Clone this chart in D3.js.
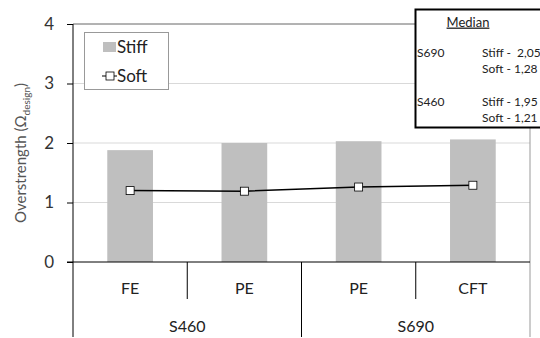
<!DOCTYPE html>
<html><head><meta charset="utf-8">
<script src="https://cdn.jsdelivr.net/npm/d3@7"></script>
<style>body{margin:0;background:#fff}svg{display:block;font-family:Lato,"Open Sans",sans-serif}</style>
</head><body>
<svg id="c" width="540" height="338"></svg>
<script>
const categories = ["FE","PE","PE","CFT"];
const groups = ["S460","S460","S690","S690"];
const groupLabels = ["S460","S690"];
const stiff = [1.88, 2.00, 2.03, 2.06];
const soft = [1.20, 1.19, 1.26, 1.29];
const yTicks = [0,1,2,3,4];
const medianRows = [["S690","Stiff -  2,05","Soft - 1,28"],["S460","Stiff - 1,95","Soft - 1,21"]];

const svg = d3.select("#c");
const L = 73, R = 530, T = 24, B = 262;
const x = d3.scaleBand().domain(d3.range(categories.length)).range([L, R]).paddingInner(0.6).paddingOuter(0.3);
const xc = d3.scaleBand().domain(d3.range(categories.length)).range([L, R]);
const y = d3.scaleLinear().domain([0,4]).range([B, T]);

// gridlines
svg.append("g").selectAll("line").data(yTicks.filter(d=>d>0 && d<4)).join("line")
  .attr("x1", L).attr("x2", R).attr("y1", d=>y(d)).attr("y2", d=>y(d))
  .attr("stroke", "#d9d9d9").attr("stroke-width", 1);
svg.append("line").attr("x1", L).attr("x2", R).attr("y1", y(4)).attr("y2", y(4)).attr("stroke", "#666");
svg.append("line").attr("x1", R).attr("x2", R).attr("y1", y(4)).attr("y2", 337).attr("stroke", "#999");

// bars
svg.append("g").selectAll("rect").data(stiff).join("rect")
  .attr("x", (d,i)=>x(i)).attr("width", x.bandwidth())
  .attr("y", d=>y(d)).attr("height", d=>y(0)-y(d)).attr("fill", "#bfbfbf");

// y axis
const ya = svg.append("g").attr("transform", `translate(${L},0)`)
  .call(d3.axisLeft(y).tickValues(yTicks).tickSize(6).tickPadding(13).tickFormat(d3.format("d")));
ya.select(".domain").remove();
ya.selectAll(".tick line").attr("stroke", "#000");
ya.selectAll("text").attr("font-size", 17).attr("fill", "#333").attr("font-family", "Lato, sans-serif");
svg.append("line").attr("x1", L).attr("x2", L).attr("y1", T).attr("y2", 337).attr("stroke", "#000");

// x axis
svg.append("line").attr("x1", 67).attr("x2", R).attr("y1", B).attr("y2", B).attr("stroke", "#000");
svg.append("g").selectAll("line").data(d3.range(1, categories.length)).join("line")
  .attr("x1", i=>xc(i)).attr("x2", i=>xc(i)).attr("y1", B)
  .attr("y2", i=> groups[i] !== groups[i-1] ? 337 : 299).attr("stroke", "#000");
svg.append("g").selectAll("text").data(categories).join("text")
  .attr("x", (d,i)=>xc(i)+xc.bandwidth()/2).attr("y", 288).attr("dy", "0.35em")
  .attr("text-anchor", "middle").attr("font-size", 16).attr("fill", "#222").text(d=>d);
svg.append("g").selectAll("text").data(groupLabels).join("text")
  .attr("x", g => { const idx = d3.range(groups.length).filter(i=>groups[i]===g); return (xc(idx[0]) + xc(idx[idx.length-1]) + xc.bandwidth())/2; })
  .attr("y", 326).attr("dy", "0.35em")
  .attr("text-anchor", "middle").attr("font-size", 16).attr("fill", "#222").text(d=>d);

// soft line
const cx = i => x(i) + x.bandwidth()/2;
svg.append("path").datum(soft)
  .attr("d", d3.line().x((d,i)=>cx(i)).y(d=>y(d)))
  .attr("fill", "none").attr("stroke", "#000").attr("stroke-width", 1.5);
svg.append("g").selectAll("rect").data(soft).join("rect")
  .attr("x", (d,i)=>cx(i)-4).attr("y", d=>y(d)-4).attr("width", 8).attr("height", 8)
  .attr("fill", "#fff").attr("stroke", "#000").attr("stroke-width", 0.8);

// y title
const yt = svg.append("text").attr("transform", "translate(26,153) rotate(-90)")
  .attr("text-anchor", "middle").attr("font-size", 15).attr("fill", "#555");
yt.append("tspan").text("Overstrength (Ω");
yt.append("tspan").attr("font-size", 10).attr("dy", 4).text("design");
yt.append("tspan").attr("dy", -4).text(")");

// legend
const lg = svg.append("g");
lg.append("rect").attr("x", 84.5).attr("y", 32.5).attr("width", 84).attr("height", 57)
  .attr("fill", "#fff").attr("stroke", "#999");
lg.append("rect").attr("x", 103).attr("y", 42).attr("width", 13).attr("height", 10).attr("fill", "#bfbfbf");
lg.append("text").attr("x", 117).attr("y", 47).attr("dy", "0.35em").attr("font-size", 17).attr("fill", "#222").text("Stiff");
lg.append("line").attr("x1", 102).attr("x2", 117).attr("y1", 76).attr("y2", 76).attr("stroke", "#000");
lg.append("rect").attr("x", 106).attr("y", 72).attr("width", 8).attr("height", 8).attr("fill", "#fff").attr("stroke", "#000").attr("stroke-width", 0.8);
lg.append("text").attr("x", 117).attr("y", 76).attr("dy", "0.35em").attr("font-size", 17).attr("fill", "#222").text("Soft");

// median box
const mb = svg.append("g");
mb.append("rect").attr("x", 415.5).attr("y", 9.5).attr("width", 140).attr("height", 118)
  .attr("fill", "#fff").attr("stroke", "#000").attr("stroke-width", 2);
mb.append("text").attr("x", 468).attr("y", 22).attr("dy", "0.35em").attr("text-anchor", "middle")
  .attr("font-size", 13).attr("fill", "#222").attr("text-decoration", "underline").text("Median");
medianRows.forEach((r, k) => {
  const y0 = 53 + k*49;
  mb.append("text").attr("x", 417).attr("y", y0).attr("dy", "0.35em").attr("font-size", 12).attr("fill", "#222").text(r[0]);
  mb.append("text").attr("x", 482).attr("y", y0).attr("dy", "0.35em").attr("font-size", 12).attr("fill", "#222").style("white-space","pre").text(r[1]);
  mb.append("text").attr("x", 482).attr("y", y0+16).attr("dy", "0.35em").attr("font-size", 12).attr("fill", "#222").text(r[2]);
});
</script>
</body></html>
